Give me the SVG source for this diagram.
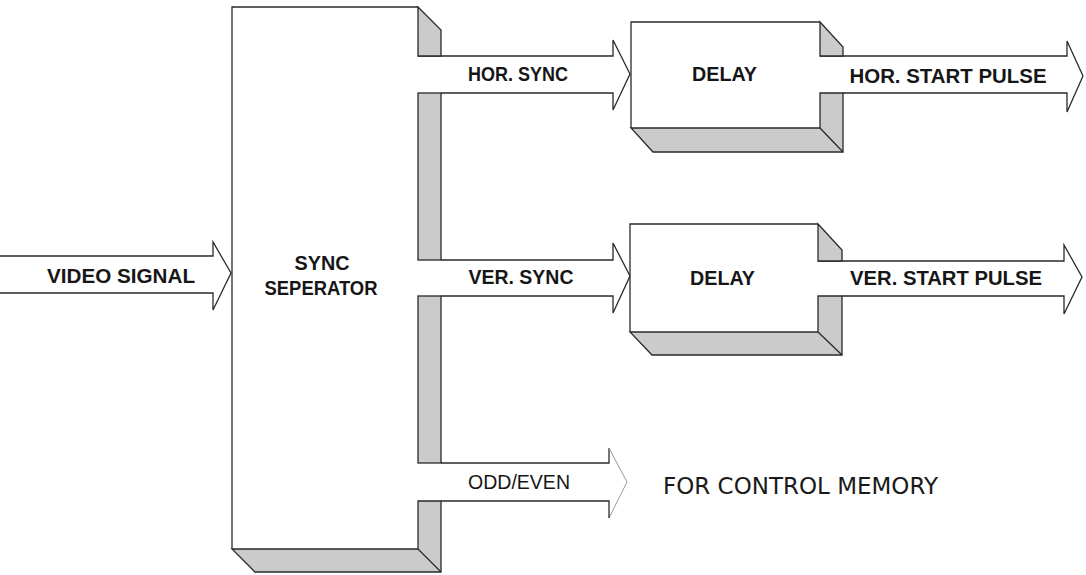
<svg xmlns="http://www.w3.org/2000/svg" width="1086" height="575" viewBox="0 0 1086 575">
  <style>
    .ln { fill: none; stroke: #2a2a2a; stroke-width: 1.3; stroke-linejoin: miter; }
    .faint { fill: none; stroke: #9a9a9a; stroke-width: 1; }
    .face { fill: #ffffff; stroke: none; }
    .shade { fill: #cbcbcb; stroke: #2a2a2a; stroke-width: 1.3; stroke-linejoin: miter; }
    .lbl { font-family: "Liberation Sans", Arial, sans-serif; font-weight: bold; font-size: 20px; fill: #161616; text-anchor: middle; }
    .reg { font-family: "Liberation Sans", Arial, sans-serif; font-weight: normal; font-size: 20px; fill: #161616; text-anchor: middle; }
    .note { font-family: "DejaVu Sans", Verdana, sans-serif; font-size: 23px; fill: #1a1a1a; }
  </style>
  <rect x="0" y="0" width="1086" height="575" fill="#ffffff"/>

  <g id="connectors">
    <g id="video-signal">
      <path class="ln" d="M0,256 H213 V242 L231,273 L213,310 V293 H0"/>
      <text class="lbl" x="121" y="283" textLength="148" lengthAdjust="spacingAndGlyphs">VIDEO SIGNAL</text>
    </g>
    <g id="hor-sync">
      <path class="ln" d="M418,56 H613 V40 L630,74 L613,110 V93 H441"/>
      <text class="lbl" x="518" y="81" textLength="100" lengthAdjust="spacingAndGlyphs">HOR. SYNC</text>
    </g>
    <g id="ver-sync">
      <path class="ln" d="M441,260 H613 V243 L630,276 L613,313 V296 H441"/>
      <text class="lbl" x="521" y="284" textLength="105" lengthAdjust="spacingAndGlyphs">VER. SYNC</text>
    </g>
    <g id="odd-even">
      <path class="ln" d="M441,463 H609 V448"/>
      <path class="faint" d="M609,448 L627,482 L609,518"/>
      <path class="ln" d="M609,518 V501 H441"/>
      <text class="reg" x="519" y="489" textLength="102" lengthAdjust="spacingAndGlyphs">ODD/EVEN</text>
    </g>
    <g id="hor-start-pulse">
      <path class="ln" d="M820,56 H1067 V41 L1083,76 L1067,112 V93 H843"/>
      <text class="lbl" x="948" y="83" textLength="197" lengthAdjust="spacingAndGlyphs">HOR. START PULSE</text>
    </g>
    <g id="ver-start-pulse">
      <path class="ln" d="M818,261 H1064 V245 L1082,277 L1064,314 V296 H842"/>
      <text class="lbl" x="946" y="285" textLength="192" lengthAdjust="spacingAndGlyphs">VER. START PULSE</text>
    </g>
  </g>

  <g id="sync-separator">
    <rect class="face" x="232" y="7" width="186" height="542"/>
    <path class="ln" d="M418,7 H232 V549"/>
    <polygon class="shade" points="418,7 441,30 441,56 418,56"/>
    <rect class="shade" x="418" y="93" width="23" height="167"/>
    <rect class="shade" x="418" y="296" width="23" height="167"/>
    <polygon class="shade" points="418,501 441,501 441,572 255,572 232,549 418,549"/>
    <line class="ln" x1="418" y1="549" x2="441" y2="572"/>
    <text class="lbl" x="322" y="270" textLength="55" lengthAdjust="spacingAndGlyphs">SYNC</text>
    <text class="lbl" x="321" y="295" textLength="113" lengthAdjust="spacingAndGlyphs">SEPERATOR</text>
  </g>

  <g id="delay-hor">
    <rect class="face" x="631" y="22" width="189" height="106"/>
    <path class="ln" d="M820,22 H631 V128"/>
    <polygon class="shade" points="820,22 843,47 843,56 820,56"/>
    <polygon class="shade" points="820,93 843,93 843,152 653,152 631,128 820,128"/>
    <line class="ln" x1="820" y1="128" x2="843" y2="152"/>
    <text class="lbl" x="724.5" y="81" textLength="65" lengthAdjust="spacingAndGlyphs">DELAY</text>
  </g>

  <g id="delay-ver">
    <rect class="face" x="630" y="224" width="188" height="108"/>
    <path class="ln" d="M818,224 H630 V332"/>
    <polygon class="shade" points="818,224 842,250 842,261 818,261"/>
    <polygon class="shade" points="818,296 842,296 842,355 652,355 630,332 818,332"/>
    <line class="ln" x1="818" y1="332" x2="842" y2="355"/>
    <text class="lbl" x="722.5" y="285" textLength="65" lengthAdjust="spacingAndGlyphs">DELAY</text>
  </g>

  <g id="control-memory-note">
    <text class="note" x="663" y="494" textLength="275" lengthAdjust="spacingAndGlyphs">FOR CONTROL MEMORY</text>
  </g>
</svg>
